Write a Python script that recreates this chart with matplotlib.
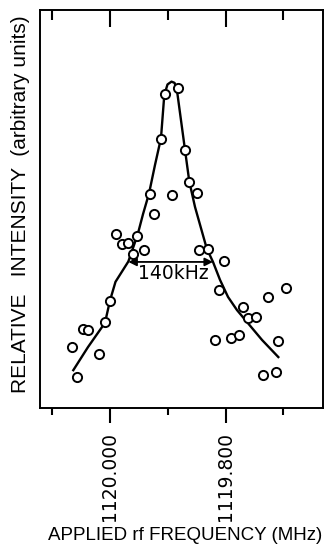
import matplotlib
matplotlib.use("Agg")
import matplotlib.pyplot as plt
from matplotlib.ticker import FixedLocator, FixedFormatter, NullFormatter

# measured points, frequency (MHz) and relative intensity (arb. units)
freq_mhz = [1119.9057, 1119.8832, 1119.9118, 1119.8702, 1119.8630, 1119.8503,
            1119.9308, 1119.8919, 1119.9239, 1119.9901, 1119.9528, 1119.9801,
            1119.9680, 1119.9417, 1119.9606, 1119.8452, 1119.8304, 1119.8023,
            1119.8109, 1120.0000, 1119.7261, 1119.6955, 1119.7694, 1119.7604,
            1119.7471, 1120.0083, 1120.0462, 1120.0381, 1120.0657, 1120.0194,
            1119.8192, 1119.7915, 1119.7760, 1119.7088, 1120.0566, 1119.7348,
            1119.7128]
intensity = [7.88, 8.03, 6.76, 6.48, 5.67, 5.41,
             5.38, 5.36, 4.88, 4.37, 4.33, 4.11,
             4.15, 3.98, 3.86, 3.97, 3.99, 3.69,
             2.96, 2.70, 2.79, 3.02, 2.54, 2.27,
             2.29, 2.15, 1.98, 1.95, 1.54, 1.35,
             1.70, 1.75, 1.83, 1.68, 0.79, 0.82,
             0.90]

# fitted line
fit_freq = [1120.0635, 1120.0381, 1120.0087, 1120.0000, 1119.9905, 1119.9683,
            1119.9521, 1119.9429, 1119.9325, 1119.9221, 1119.9118, 1119.9061,
            1119.9005, 1119.8936, 1119.8884, 1119.8846, 1119.8702, 1119.8628,
            1119.8529, 1119.8327, 1119.8218, 1119.8097, 1119.7958, 1119.7803,
            1119.7630, 1119.7370, 1119.7088]
fit_intensity = [0.95, 1.53, 2.14, 2.70, 3.17, 3.68,
                 4.36, 4.87, 5.39, 6.11, 6.78, 7.86,
                 8.13, 8.20, 8.17, 8.03, 6.48, 5.69,
                 5.05, 4.01, 3.67, 3.22, 2.79, 2.46,
                 2.16, 1.71, 1.28]

# half-width marker
fwhm_low = 1119.9683
fwhm_high = 1119.8218
fwhm_level = 3.67
fwhm_text = "140kHz"

major_ticks = [1120.0, 1119.8]
major_labels = ["1120.000", "1119.800"]
minor_ticks = [1120.1, 1119.9, 1119.7]

label_font = "Liberation Sans"
num_font = "DejaVu Sans"

fig = plt.figure(figsize=(3.25, 5.5), dpi=100)
ax = fig.add_axes([40 / 325, 1 - 408 / 550, 283 / 325, 398 / 550])

ax.plot(fit_freq, fit_intensity, color="black", lw=1.7, zorder=2)
ax.plot(freq_mhz, intensity, linestyle="none", marker="o", ms=6.6,
        mfc="white", mec="black", mew=1.4, zorder=3)

ax.annotate("", xy=(fwhm_high, fwhm_level), xytext=(fwhm_low, fwhm_level),
            arrowprops=dict(arrowstyle="<|-|>", color="black", lw=1.3,
                            mutation_scale=12, shrinkA=0, shrinkB=0))
ax.text((fwhm_low + fwhm_high) / 2 - 0.004, fwhm_level - 0.3, fwhm_text,
        ha="center", va="center", fontsize=13.5, family=num_font)

ax.set_xlim(1120.1211, 1119.6315)
ax.set_ylim(0, 10)
ax.set_yticks([])

for side in ["left", "right", "top", "bottom"]:
    ax.spines[side].set_linewidth(1.4)

ax.xaxis.set_major_locator(FixedLocator(major_ticks))
ax.xaxis.set_major_formatter(FixedFormatter(major_labels))
ax.xaxis.set_minor_locator(FixedLocator(minor_ticks))
ax.xaxis.set_minor_formatter(NullFormatter())
ax.tick_params(axis="x", which="major", direction="out", length=11, width=1.5, pad=6,
               labelrotation=90, labelsize=13.5)
ax.tick_params(axis="x", which="minor", direction="out", length=5, width=1.5)
for lab in ax.get_xticklabels():
    lab.set_family(num_font)

# top ticks point inward
sec = ax.secondary_xaxis("top")
sec.xaxis.set_major_locator(FixedLocator(major_ticks))
sec.xaxis.set_minor_locator(FixedLocator(minor_ticks))
sec.tick_params(axis="x", which="major", direction="in", length=12, width=1.5, labeltop=False)
sec.tick_params(axis="x", which="minor", direction="in", length=7, width=1.5)
sec.spines["top"].set_visible(False)

ax.set_xlabel("APPLIED rf FREQUENCY (MHz)", fontsize=13.5, family=label_font)
ax.xaxis.set_label_coords(0.512, -0.30)
ax.set_ylabel("RELATIVE   INTENSITY  (arbitrary units)", fontsize=15, family=label_font)
ax.yaxis.set_label_coords(-0.035, 0.513)

fig.savefig("out.png", dpi=100)
